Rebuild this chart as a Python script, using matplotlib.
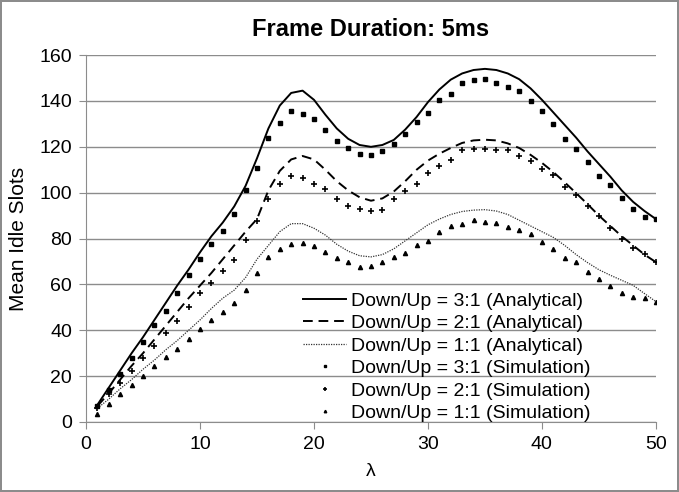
import numpy as np
import matplotlib.pyplot as plt

plt.rcParams['font.family'] = ['Liberation Sans', 'DejaVu Sans']

lam = np.arange(1, 51)

# analytical curves, read at integer lambda
ana_31 = [7.5, 15, 22.5, 30, 37, 44.5, 52, 59.5, 66.5, 74,
          81, 87, 94, 103, 115, 128, 138, 143.5, 144.5, 140.5,
          134, 128, 123.5, 120.8, 120, 120.8, 123, 127.5, 133, 139.5,
          145, 149.3, 152, 153.5, 154, 153.5, 152, 149.5, 145.5, 140.5,
          135, 129.5, 124, 118, 112.5, 107, 101, 96, 92, 88.5]
ana_21 = [7, 12.5, 18.5, 24.5, 30, 36, 42, 48, 54, 59.5,
          65, 71, 77, 83, 88.5, 101, 109.5, 114.5, 116, 114.5,
          110, 105, 101, 98, 96.5, 97.5, 100.5, 105, 110, 114,
          117, 119.5, 121.7, 122.8, 123.1, 122.8, 121.5, 119.5, 116.5, 113,
          109, 104.5, 99.8, 95, 90, 85.5, 81, 77, 73, 69.7]
ana_11 = [6, 10, 14.5, 18.5, 23, 27, 31.5, 35.5, 40, 44.5,
          49.5, 54, 57.5, 63, 71, 77, 83, 86.5, 86.5, 84.5,
          81.5, 77.5, 74.5, 72.5, 72, 73, 75.5, 79, 82.5, 86,
          88.5, 90.5, 91.8, 92.4, 92.6, 92, 90.5, 88, 85.5, 83,
          80.5, 77, 73, 69.5, 66.4, 64, 61.8, 59.6, 56, 52.5]

# simulation points
sim_31 = [7, 13.9, 20.9, 28, 34.9, 42.3, 48.6, 56.2, 63.9, 71.2,
          77.7, 83.4, 90.8, 101, 110.9, 123.7, 130.6, 135.7, 134.2, 132.2,
          127.2, 122.7, 119.3, 116.9, 116.4, 118.3, 121.4, 125.8, 130.9, 134.9,
          140.6, 143.2, 147.7, 149, 149.5, 148, 146.3, 144.2, 139.9, 135.8,
          130.1, 123.6, 119, 113.5, 107.4, 103.4, 97.5, 93.1, 89.5, 88.5]
sim_21 = [6, 12, 17.2, 22.2, 28, 33.3, 38.8, 44.1, 50.2, 56.4,
          60.7, 66, 70.7, 79.5, 87.8, 97.2, 103.6, 107.4, 106.6, 103.9,
          101.4, 97.2, 94.3, 92.9, 92.1, 92.3, 97.2, 100.9, 104, 108.4,
          111.5, 114.1, 118.8, 118.9, 119.1, 118.8, 118.8, 116.2, 113.8, 110.3,
          107.9, 102.5, 99.1, 94, 89.7, 84.6, 79.8, 75.8, 73.4, 69.6]
sim_11 = [3.6, 8, 12.4, 16, 20.1, 24.4, 28.2, 32, 36.2, 40.7,
          44.4, 48, 52.1, 57.6, 64.9, 71.9, 75.5, 77.6, 78.2, 76.6,
          74.1, 71.3, 69.6, 67.7, 68.1, 69.9, 71.9, 73.7, 77.2, 79,
          82.7, 85.3, 86.5, 87.9, 87, 86.8, 85.2, 83.8, 82, 78.6,
          75.5, 71.6, 69.6, 65.6, 62.4, 59.4, 56.2, 54.5, 54, 52.5]

fig = plt.figure(figsize=(6.79, 4.92), dpi=100)
fig.patch.set_edgecolor('#8c8c8c')
fig.patch.set_linewidth(1.5)
ax = fig.add_axes([0.1267, 0.1423, 0.8393, 0.7457])

ax.plot(lam, ana_31, color='black', lw=1.4, label='Down/Up = 3:1 (Analytical)')
ax.plot(lam, ana_21, color='black', lw=1.4, ls=(0, (5, 3)), label='Down/Up = 2:1 (Analytical)')
ax.plot(lam, ana_11, color='#333333', lw=0.9, ls=(0, (1, 1)), label='Down/Up = 1:1 (Analytical)')
ax.plot(lam, sim_31, ls='none', marker='s', ms=2.6, color='black', label='Down/Up = 3:1 (Simulation)')
ax.plot(lam, sim_21, ls='none', marker='+', ms=4, mew=1.2, color='black', label='Down/Up = 2:1 (Simulation)')
ax.plot(lam, sim_11, ls='none', marker='^', ms=3, color='black', label='Down/Up = 1:1 (Simulation)')

ax.set_xlim(0, 50)
ax.set_ylim(0, 160)
ax.set_xticks(range(0, 51, 10))
ax.set_yticks(range(0, 161, 20))
ax.yaxis.grid(True, color='#8c8c8c', lw=1)
ax.set_axisbelow(True)
for s in ['top', 'right']:
    ax.spines[s].set_visible(False)
for s in ['left', 'bottom']:
    ax.spines[s].set_color('#8c8c8c')
ax.tick_params(axis='both', colors='#8c8c8c', labelcolor='black', labelsize=14, length=5, pad=5)

ax.set_xlabel('λ', fontsize=14, labelpad=7)
ax.set_ylabel('Mean Idle Slots', fontsize=15, labelpad=8)
ax.set_title('Frame Duration: 5ms', fontsize=17, fontweight='bold', pad=14)

ax.legend(loc='lower right', bbox_to_anchor=(0.885, 0.0), frameon=False, fontsize=14,
          handlelength=2.2, handletextpad=0.25, labelspacing=0.25, markerscale=0.6,
          borderaxespad=0, borderpad=0)

fig.savefig('out.png', dpi=100)
